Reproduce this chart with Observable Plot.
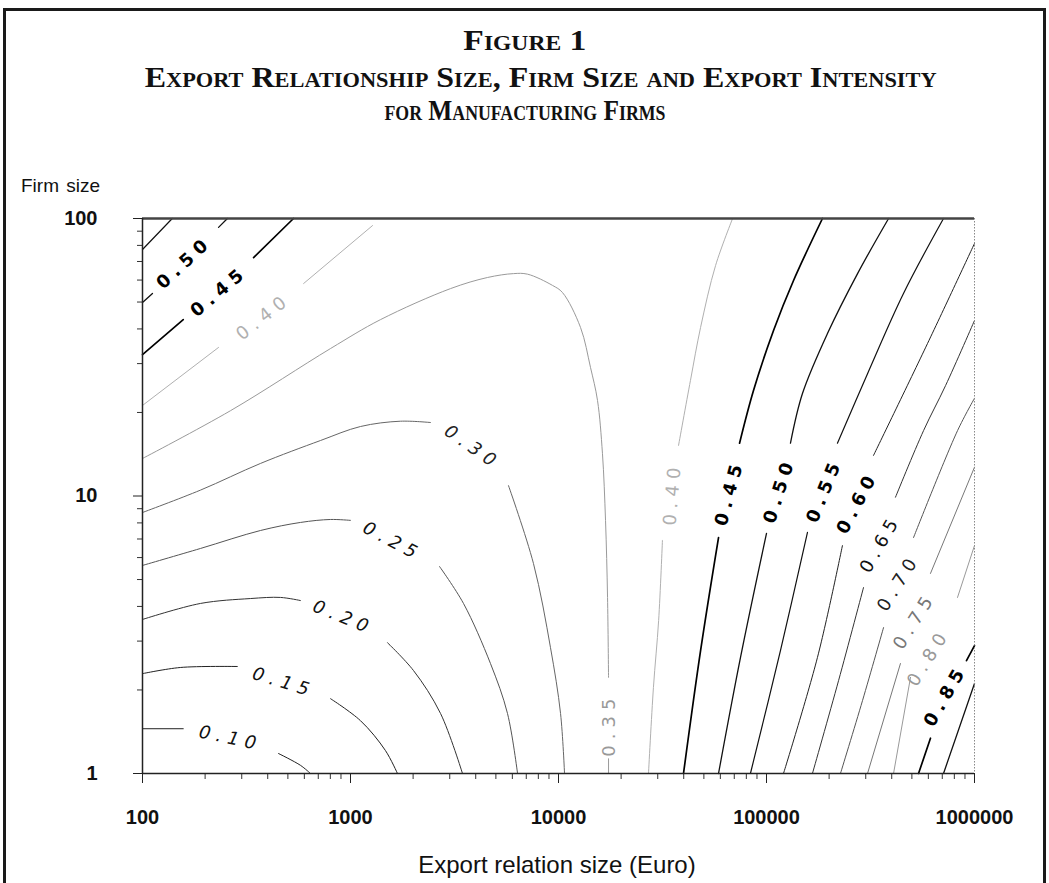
<!DOCTYPE html>
<html>
<head>
<meta charset="utf-8">
<script src="https://cdn.jsdelivr.net/npm/d3@7"></script>
<script src="https://cdn.jsdelivr.net/npm/@observablehq/plot@0.6"></script>
<style>
html, body { margin: 0; padding: 0; background: #fff; }
body { width: 1049px; height: 883px; position: relative; overflow: hidden; }
#box { position: absolute; left: 3px; top: 8px; width: 1043px; height: 900px; border: 3px solid #1a1a1a; border-bottom: none; box-sizing: border-box; }
.tline { position: absolute; white-space: nowrap; font-family: "Liberation Serif", "DejaVu Serif", serif; font-weight: bold; font-variant: small-caps; font-size: 30px; line-height: 1; color: #111; transform-origin: center center; }
.atitle { position: absolute; white-space: nowrap; font-family: "Liberation Sans", Arial, sans-serif; color: #111; line-height: 1; }
#chart { position: absolute; left: 0; top: 160px; }
.clabel { letter-spacing: 6px; }
</style>
</head>
<body>
<div id="box"></div>
<div class="tline" data-w="123" data-cx="525" style="top:25px">Figure 1</div>
<div class="tline" data-w="792" data-cx="541" style="top:62px">Export Relationship Size, Firm Size and Export Intensity</div>
<div class="tline" data-w="281" data-cx="525" style="top:95px">for Manufacturing Firms</div>
<div class="atitle" id="ytitle" style="left:21px; top:176px; font-size:19px; word-spacing:2px">Firm size</div>
<div class="atitle" id="xtitle" style="top:853px; font-size:24px">Export relation size (Euro)</div>
<div id="chart"></div>
<script>
// ---- Data: [export relation size (Euro), firm size] ----
const c010 = [[[100,1.45],[157,1.45]], [[451,1.18],[575,1.07],[642,1]]];
const c015 = [[[100,2.29],[152,2.41],[286,2.43]], [[802,1.86],[1117,1.55],[1472,1.21],[1682,1]]];
const c020 = [[[100,3.59],[190,4.10],[330,4.27],[461,4.31],[575,4.20]], [[1506,2.96],[2008,2.35],[2710,1.645],[3455,1]]];
const c025 = [[[100,5.62],[190,6.47],[369,7.51],[575,8.03],[802,8.23],[1000,8.17]], [[2680,5.57],[3493,4.10],[4710,2.49],[5686,1.645],[6355,1]]];
const c030 = [[[100,8.72],[190,10.5],[369,13.1],[718,15.85],[1117,17.8],[1739,18.6],[2426,18.4]], [[5749,10.9],[7580,5.71],[9154,2.84],[10230,1.645],[10690,1]]];
const c035 = [[[100,13.65],[265,20.3],[802,34.0],[1393,43.2],[3027,55.9],[4560,61.3],[6077,63.3],[7100,63.0],[9355,57.4],[10450,54.1],[12760,40.5],[14260,29.0],[15400,22.1],[16270,14.2],[16830,8.17],[17210,4.31],[17400,2.22]], [[17400,1.13],[17400,1]]];
const c040a = [[[100,21.2],[232,34.3]], [[595,58.3],[1276,94.3]]];
const c040b = [[[68700,100],[56900,67.7],[48200,40.5],[43100,26.1],[37760,15.2]], [[31600,6.92],[30300,3.56],[28600,2.04],[27080,1]]];
const c045a = [[[100,32.3],[157,43.2]], [[342,72.3],[532,100]]];
const c045b = [[[185800,100],[134900,59.8],[108100,39.5],[86600,24.0],[74200,15.5]], [[58800,7.08],[48200,2.77],[39900,1]]];
const c050a = [[[100,49.8],[111.7,53.7]], [[232,92.9],[256,100]]];
const c050b = [[[386300,100],[274000,63.3],[196400,38.5],[148900,23.4],[130400,15.5]], [[100000,7.33],[75000,2.62],[58800,1]]];
const c055a = [[[100,77.3],[139,100]]];
const c055b = [[[709600,100],[455600,53.7],[306000,27.6],[219300,15.5]], [[157400,7.39],[116700,2.77],[83700,1]]];
const c060 = [[[1000000,81.3],[594000,35.4],[326900,14.0]], [[231800,6.63],[175800,2.62],[120700,1]]];
const c065 = [[[1000000,42.9],[726000,25.0],[568800,17.2],[417000,9.9]], [[292700,4.68],[222000,2.16],[166300,1]]];
const c070 = [[[1000000,22.5],[828700,17.2],[509100,7.08]], [[365500,3.36],[289400,1.83],[226800,1]]];
const c075 = [[[1000000,12.7],[614300,5.26]], [[440500,2.49],[306000,1]]];
const c080 = [[[1000000,6.63],[828700,4.31]], [[492500,2.22],[408100,1]]];
const c085 = [[[1000000,2.89],[915000,2.55]], [[614300,1.34],[538200,1]]];
const c090 = [[[1000000,2.11],[709600,1]]];

// contour labels
const labelText  = ["0.10","0.15","0.20","0.25","0.30","0.35","0.40","0.40","0.45","0.45","0.50","0.50","0.55","0.60","0.65","0.70","0.75","0.80","0.85"];
const labelEuro  = [265, 477, 925, 1592, 3864, 17580, 382, 35300, 234, 66400, 159, 115500, 190100, 274000, 353000, 431500, 515000, 601000, 726000];
const labelSize  = [1.34, 2.13, 3.65, 6.86, 14.96, 1.50, 44.3, 10.2, 54.6, 10.3, 69.4, 10.5, 10.5, 9.48, 6.74, 4.88, 3.56, 2.62, 1.91];
const labelAngle = [12, 17, 22, 28, 35, -90, -38, -85, -40, -75, -43, -72, -68, -62, -60, -58, -58, -58, -60];

// axis ticks
const xMajor = [100, 1000, 10000, 100000, 1000000];
const yMajor = [1, 10, 100];
const mult = [2, 3, 4, 5, 6, 7, 8, 9];

// ---- styles ----
const contours = [
  {level: "0.10", segs: c010}, {level: "0.15", segs: c015}, {level: "0.20", segs: c020},
  {level: "0.25", segs: c025}, {level: "0.30", segs: c030}, {level: "0.35", segs: c035},
  {level: "0.40", segs: c040a}, {level: "0.40", segs: c040b},
  {level: "0.45", segs: c045a}, {level: "0.45", segs: c045b},
  {level: "0.50", segs: c050a}, {level: "0.50", segs: c050b},
  {level: "0.55", segs: c055a}, {level: "0.55", segs: c055b},
  {level: "0.60", segs: c060}, {level: "0.65", segs: c065}, {level: "0.70", segs: c070},
  {level: "0.75", segs: c075}, {level: "0.80", segs: c080}, {level: "0.85", segs: c085},
  {level: "0.90", segs: c090}
];
const lineStyle = {
  "0.10": ["#222", 1], "0.15": ["#222", 1], "0.20": ["#333", 1], "0.25": ["#555", 1],
  "0.30": ["#666", 1], "0.35": ["#9a9a9a", 1], "0.40": ["#b0b0b0", 1], "0.45": ["#000", 1.7],
  "0.50": ["#111", 1.3], "0.55": ["#111", 1.2], "0.60": ["#222", 1], "0.65": ["#333", 1],
  "0.70": ["#555", 1], "0.75": ["#777", 1], "0.80": ["#999", 1], "0.85": ["#000", 1.7],
  "0.90": ["#111", 1.3]
};
const labelColor = {
  "0.10": "#111", "0.15": "#111", "0.20": "#111", "0.25": "#111", "0.30": "#222",
  "0.35": "#999", "0.40": "#b0b0b0", "0.45": "#000", "0.50": "#000", "0.55": "#000",
  "0.60": "#000", "0.65": "#111", "0.70": "#222", "0.75": "#777", "0.80": "#999", "0.85": "#000"
};
const italicLevels = new Set(["0.10", "0.15", "0.20", "0.25", "0.30"]);
const boldLevels = new Set(["0.45", "0.50", "0.55", "0.60", "0.85"]);

const labels = labelText.map((t, i) => ({t, x: labelEuro[i], y: labelSize[i], a: labelAngle[i], c: labelColor[t]}));
const xMinor = xMajor.slice(0, -1).flatMap(d => mult.map(m => d * m));
const yMinor = yMajor.slice(0, -1).flatMap(d => mult.map(m => d * m));

const lineMarks = contours.flatMap(c => c.segs.map(seg =>
  Plot.line(seg, {x: d => d[0], y: d => d[1], stroke: lineStyle[c.level][0], strokeWidth: lineStyle[c.level][1], curve: "catmull-rom"})
));

const textOpts = {x: "x", y: "y", text: "t", rotate: "a", fill: "c", fontSize: 18, fontFamily: "DejaVu Sans", className: "clabel", textAnchor: "middle"};

const chart = Plot.plot({
  width: 1049,
  height: 723,
  marginLeft: 142,
  marginRight: 75,
  marginTop: 58,
  marginBottom: 110,
  style: {fontFamily: "'Liberation Sans', Arial, sans-serif", color: "#111", background: "transparent", overflow: "visible"},
  x: {type: "log", domain: [100, 1000000]},
  y: {type: "log", domain: [1, 100]},
  color: {type: "identity"},
  marks: [
    ...lineMarks,
    Plot.text(labels.filter(d => italicLevels.has(d.t)), {...textOpts, fontStyle: "italic"}),
    Plot.text(labels.filter(d => !italicLevels.has(d.t) && !boldLevels.has(d.t)), textOpts),
    Plot.text(labels.filter(d => boldLevels.has(d.t)), {...textOpts, fontWeight: "bold"}),
    Plot.axisX({ticks: xMinor, tickSize: 6, tickFormat: () => "", label: null, stroke: "#333"}),
    Plot.axisX({ticks: xMajor, tickSize: 10, tickPadding: 26, tickFormat: d => String(d), fontSize: 20, fontWeight: "bold", label: null, stroke: "#222"}),
    Plot.axisY({ticks: yMinor, tickSize: 5, tickFormat: () => "", label: null, stroke: "#333"}),
    Plot.axisY({ticks: yMajor, tickSize: 9, tickPadding: 36, tickFormat: d => String(d), fontSize: 20, fontWeight: "bold", label: null, stroke: "#222"}),
    Plot.ruleY([100], {stroke: "#444", strokeWidth: 2.5}),
    Plot.ruleX([1000000], {stroke: "#888", strokeWidth: 1, strokeDasharray: "1.5,1.5"}),
    Plot.ruleX([100], {stroke: "#222", strokeWidth: 1.5}),
    Plot.ruleY([1], {stroke: "#222", strokeWidth: 1.5})
  ]
});
document.getElementById("chart").appendChild(chart);

// fit title lines to the widths seen in the figure
document.querySelectorAll(".tline").forEach(el => {
  const w = el.getBoundingClientRect().width;
  const target = +el.dataset.w, cx = +el.dataset.cx;
  el.style.left = (cx - w / 2) + "px";
  el.style.transform = `scaleX(${target / w})`;
});
const xt = document.getElementById("xtitle");
xt.style.left = (557 - xt.getBoundingClientRect().width / 2) + "px";
</script>
</body>
</html>
